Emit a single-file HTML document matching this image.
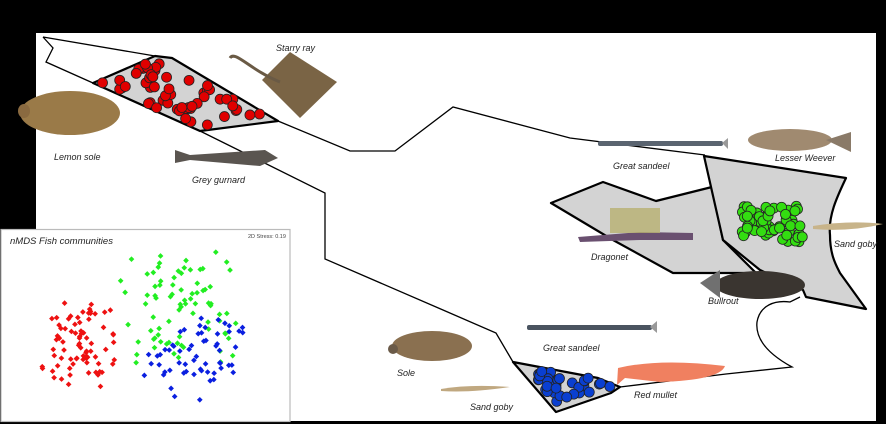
<!DOCTYPE html>
<html><head><meta charset="utf-8"><style>
html,body{margin:0;padding:0;background:#000;}
svg{display:block}
text{font-family:"Liberation Sans",sans-serif;font-style:italic;font-size:9px;fill:#222}
</style></head><body>
<svg id="s" width="886" height="424" viewBox="0 0 886 424" xmlns="http://www.w3.org/2000/svg">
<rect x="0" y="0" width="886" height="424" fill="#000"/>
<rect x="36" y="33" width="840" height="388" fill="#fff"/>
<path d="M43,37 L155,56 L172,58 L278,121 L350,151 L395,151 L453,107 L570,138 L705,155 M278,121 L200,131 L93,83 L46,62 L53,48 L43,37" fill="none" stroke="#000" stroke-width="1.3"/>
<path d="M200,131 L325,193 L325,259 L443,310 L496,333 L513,362" fill="none" stroke="#000" stroke-width="1.3"/>
<path d="M620,387 L726,374 L792,367 C770,355 755,340 757,322 C760,305 775,300 790,302 L800,297" fill="none" stroke="#000" stroke-width="1.3"/>
<polygon points="93,83 155,56 172,58 278,121 200,131" fill="#d3d3d3" stroke="#000" stroke-width="2.2" stroke-linejoin="round"/>
<polygon points="551,203 603,182 656,201 712,187 723,240 756,273 673,273 613,240" fill="#d3d3d3" stroke="#000" stroke-width="2.2" stroke-linejoin="round"/>
<path d="M704,156 L846,178 C838,195 828,215 830,235 C830,255 836,265 840,273 L866,309 L806,297 L803,290 L760,270 L723,240 Z" fill="#d3d3d3" stroke="#000" stroke-width="2.2" stroke-linejoin="round"/>
<polygon points="513,362 598,378 620,387 611,393 556,412" fill="#d3d3d3" stroke="#000" stroke-width="2.2" stroke-linejoin="round"/>
<g id="dots"></g>
<g>
<ellipse cx="70" cy="113" rx="50" ry="22" fill="#9a7a48"/><ellipse cx="24" cy="111" rx="6" ry="7" fill="#8a6a40"/>
<path d="M290,52 L337,82 L300,118 L262,80 Z" fill="#7a6445"/><path d="M280,82 C250,70 235,50 230,58" stroke="#6a5a45" stroke-width="3" fill="none"/>
<path d="M175,150 L190,155 L265,150 L278,158 L260,166 L190,160 L175,163 Z" fill="#5a5550"/>
<rect x="598" y="141" width="125" height="5" rx="2" fill="#5a6470"/><path d="M722,143 L728,138 L728,149Z" fill="#999"/>
<ellipse cx="790" cy="140" rx="42" ry="11" fill="#a08a70"/><path d="M826,140 L851,132 L851,152Z" fill="#8a7a68"/>
<path d="M813,226 Q850,220 883,224 Q850,232 813,229Z" fill="#c8b48a"/>
<path d="M578,237 L640,232 L693,233 L693,240 L640,240 L580,242Z" fill="#6a5070"/><rect x="610" y="208" width="50" height="25" fill="#b8b070" opacity=".8"/>
<ellipse cx="760" cy="285" rx="45" ry="14" fill="#3a3530"/><path d="M700,283 L720,270 L720,298Z" fill="#707070"/>
<ellipse cx="432" cy="346" rx="40" ry="15" fill="#8a7050"/><circle cx="393" cy="349" r="5" fill="#6a5a48"/>
<rect x="527" y="325" width="125" height="5" rx="2" fill="#4a5460"/><path d="M650,327 L657,321 L657,333Z" fill="#999"/>
<path d="M441,389 Q470,384 510,387 Q470,393 441,391Z" fill="#c0a880"/>
<path d="M618,368 Q660,358 725,366 Q720,380 660,382 L625,378 L617,385Z" fill="#f08060"/>
</g>
<text x="276" y="51">Starry ray</text>
<text x="54" y="160">Lemon sole</text>
<text x="192" y="183">Grey gurnard</text>
<text x="613" y="169">Great sandeel</text>
<text x="775" y="161">Lesser Weever</text>
<text x="834" y="247">Sand goby</text>
<text x="591" y="260">Dragonet</text>
<text x="708" y="304">Bullrout</text>
<text x="397" y="376">Sole</text>
<text x="543" y="351">Great sandeel</text>
<text x="470" y="410">Sand goby</text>
<text x="634" y="398">Red mullet</text>
<rect x="1" y="229.5" width="289" height="192" fill="#fff" stroke="#bbb" stroke-width="1.2"/>
<text x="10" y="244" style="font-size:9.5px">nMDS Fish communities</text>
<text x="248" y="238" style="font-size:5.5px;font-style:normal;fill:#444">2D Stress: 0.19</text>
<g id="sc"></g>
</svg>
<script>
var s=12345;function r(){s=(s*16807)%2147483647;return (s-1)/2147483646;}
function g(){return (r()+r()-1);}
var NS="http://www.w3.org/2000/svg";
function inPoly(x,y,p){var c=false;for(var i=0,j=p.length-1;i<p.length;j=i++){if(((p[i][1]>y)!=(p[j][1]>y))&&(x<(p[j][0]-p[i][0])*(y-p[i][1])/(p[j][1]-p[i][1])+p[i][0]))c=!c;}return c;}
var D=document.getElementById('dots');
function cl(poly,n,col,bx,rad){var k=0,t=0;while(k<n&&t<5000){t++;var x=bx[0]+r()*(bx[2]-bx[0]),y=bx[1]+r()*(bx[3]-bx[1]);if(poly&&!inPoly(x,y,poly))continue;var c=document.createElementNS(NS,'circle');c.setAttribute('cx',x);c.setAttribute('cy',y);c.setAttribute('r',rad);c.setAttribute('fill',col);c.setAttribute('stroke','#222');c.setAttribute('stroke-width','0.8');D.appendChild(c);k++;}}
cl([[100,83],[155,60],[172,62],[270,119],[200,128]],55,'#e00000',[95,56,275,130],5);
cl(null,55,'#33dd11',[740,205,803,242],5);
cl([[518,364],[598,380],[612,387],[556,406]],35,'#0a3fd0',[515,362,615,410],5);
var S=document.getElementById('sc');
function sc(n,col,cx,cy,sx,sy){for(var i=0;i<n;i++){var x=cx+g()*sx,y=cy+g()*sy;var p=document.createElementNS(NS,'rect');p.setAttribute('x',x-2);p.setAttribute('y',y-2);p.setAttribute('width',4);p.setAttribute('height',4);p.setAttribute('transform','rotate(45 '+x+' '+y+')');p.setAttribute('fill',col);S.appendChild(p);}}
sc(80,'#ee1111',82,345,50,55);
sc(80,'#22ee22',175,305,65,65);
sc(60,'#0a1fe0',195,360,60,48);
</script>
</body></html>
